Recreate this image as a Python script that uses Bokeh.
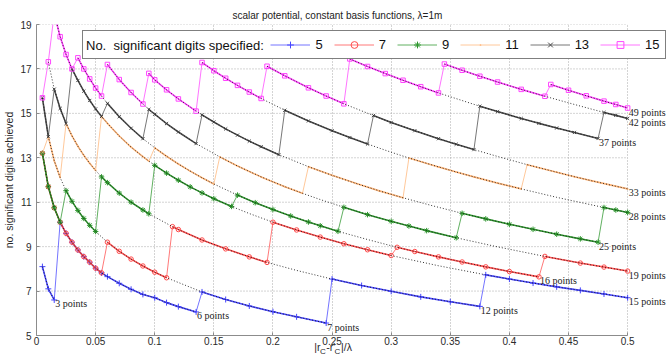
from bokeh.plotting import figure
from bokeh.models import (Range1d, FixedTicker, NumeralTickFormatter, Legend, LegendItem,
                          LabelSet, ColumnDataSource, LinearAxis)
from bokeh.embed import file_html
from bokeh.resources import INLINE

FONT = "Liberation Sans"
NB = "\u00a0"

# ------------------------------------------------------------------ data
title_text = "scalar potential, constant basis functions, \u03bb=1m"
y_label = "no. significant digits achieved"
legend_title = "No.  significant digits specified:"
x_label_main = "|r" + NB * 2 + "-r'" + NB * 2 + "|/\u03bb" + NB * 14     # |r_C - r'_C| / lambda
x_label_subs = "C" + NB * 4 + "C" + NB * 2 + NB * 19                    # the two subscripts
x_ticks = [0, 0.05, 0.1, 0.15, 0.2, 0.25, 0.3, 0.35, 0.4, 0.45, 0.5]
y_ticks = [5, 7, 9, 11, 13, 15, 17, 19]

# accuracy curve of each quadrature rule (number of points)
rule_points = [3, 6, 7, 12, 15, 16, 19, 25, 28, 33, 37, 42, 49]
r3_x = [0.005, 0.01, 0.015]
r3_y = [8.1, 7.1, 6.6]
r6_x = [0.005, 0.01, 0.015, 0.02, 0.025, 0.03, 0.035, 0.04, 0.045, 0.05, 0.055, 0.06, 0.07, 0.08,
        0.09, 0.1, 0.11, 0.12, 0.135]
r6_y = [13.2, 11.7, 10.75, 10.1, 9.6, 9.2, 8.85, 8.55, 8.3, 8.03, 7.82, 7.65, 7.35, 7.08,
        6.85, 6.7, 6.48, 6.3, 6.06]
r7_x = [0.005, 0.01, 0.015, 0.02, 0.025, 0.03, 0.035, 0.04, 0.045, 0.05, 0.06, 0.07, 0.08, 0.09,
        0.1, 0.11, 0.14, 0.16, 0.18, 0.2, 0.22, 0.245]
r7_y = [15.7, 13.95, 12.87, 12.11, 11.52, 11.04, 10.63, 10.27, 9.96, 9.68, 9.2, 8.79, 8.44, 8.13,
        7.85, 7.6, 6.96, 6.62, 6.33, 6.07, 5.84, 5.56]
r12_x = [0.01, 0.015, 0.02, 0.025, 0.03, 0.035, 0.04, 0.045, 0.05, 0.055, 0.06, 0.07, 0.08, 0.09,
         0.095, 0.115, 0.12, 0.14, 0.16, 0.18, 0.195, 0.22, 0.25, 0.275, 0.3, 0.325, 0.35, 0.375]
r12_y = [17.32, 16.09, 15.22, 14.54, 13.99, 13.52, 13.11, 12.75, 12.43, 12.14, 11.88, 11.41, 11.0, 10.65,
         10.48, 9.9, 9.77, 9.3, 8.9, 8.54, 8.29, 7.93, 7.54, 7.25, 6.99, 6.74, 6.52, 6.31]
r15_x = [0.015, 0.02, 0.025, 0.03, 0.035, 0.04, 0.045, 0.05, 0.055, 0.06, 0.07, 0.08, 0.09, 0.095,
         0.1, 0.11, 0.12, 0.13, 0.14, 0.15, 0.165, 0.18, 0.2, 0.22, 0.24, 0.26, 0.28, 0.3, 0.34,
         0.38, 0.4, 0.42, 0.44, 0.46, 0.48, 0.5]
r15_y = [19.5, 18.45, 17.65, 17.0, 16.48, 16.0, 15.58, 15.2, 14.86, 14.55, 13.98, 13.48, 13.05, 12.85,
         12.66, 12.31, 11.99, 11.69, 11.42, 11.16, 10.81, 10.49, 10.1, 9.75, 9.43, 9.13, 8.86, 8.6, 8.14,
         7.73, 7.54, 7.36, 7.19, 7.03, 6.87, 6.7]
r16_x = [0.035, 0.04, 0.045, 0.05, 0.055, 0.06, 0.07, 0.08, 0.09, 0.1, 0.11, 0.12, 0.13, 0.14, 0.15,
         0.17, 0.185, 0.2, 0.215, 0.23, 0.24, 0.255, 0.28, 0.305, 0.32, 0.34, 0.36, 0.38, 0.4, 0.425]
r16_y = [17.5, 17.0, 16.55, 16.14, 15.78, 15.45, 14.85, 14.33, 13.86, 13.45, 13.07, 12.72, 12.4, 12.1, 11.82,
         11.32, 10.98, 10.67, 10.38, 10.11, 9.94, 9.69, 9.32, 8.97, 8.78, 8.54, 8.31, 8.09, 7.88, 7.64]
r19_x = [0.06, 0.07, 0.08, 0.09, 0.095, 0.1, 0.11, 0.12, 0.135, 0.155, 0.17, 0.19, 0.21, 0.225, 0.24,
         0.26, 0.28, 0.3, 0.315, 0.33, 0.355, 0.39, 0.43, 0.46, 0.48, 0.5]
r19_y = [17.2, 16.52, 15.94, 15.42, 15.18, 14.96, 14.54, 14.16, 13.64, 13.04, 12.63, 12.14, 11.7, 11.4, 11.12,
         10.77, 10.44, 10.14, 9.93, 9.72, 9.4, 8.99, 8.56, 8.26, 8.08, 7.9]
r25_x = [0.095, 0.1, 0.11, 0.12, 0.135, 0.14, 0.15, 0.16, 0.17, 0.18, 0.19, 0.205, 0.23, 0.25, 0.27,
         0.29, 0.31, 0.335, 0.36, 0.38, 0.4, 0.42, 0.44, 0.46, 0.475]
r25_y = [16.8, 16.51, 16.06, 15.65, 15.1, 14.93, 14.61, 14.3, 14.02, 13.75, 13.5, 13.14, 12.6, 12.21, 11.85,
         11.51, 11.2, 10.84, 10.5, 10.25, 10.01, 9.78, 9.56, 9.35, 9.2]
r28_x = [0.14, 0.15, 0.16, 0.17, 0.18, 0.19, 0.21, 0.23, 0.25, 0.265, 0.28, 0.3, 0.315, 0.34, 0.355,
         0.37, 0.39, 0.41, 0.44, 0.46, 0.48, 0.49, 0.5]
r28_y = [17.29, 16.92, 16.58, 16.26, 15.96, 15.67, 15.14, 14.66, 14.22, 13.91, 13.62, 13.25, 12.99, 12.59, 12.36,
         12.14, 11.86, 11.6, 11.22, 10.99, 10.76, 10.65, 10.54]
r33_x = [0.195, 0.21, 0.23, 0.245, 0.26, 0.285, 0.3, 0.32, 0.34, 0.355, 0.37, 0.39, 0.415, 0.44, 0.455,
         0.47, 0.485, 0.5]
r33_y = [17.12, 16.69, 16.15, 15.78, 15.43, 14.9, 14.59, 14.22, 13.86, 13.61, 13.37, 13.06, 12.69, 12.35, 12.15,
         11.96, 11.78, 11.6]
r37_x = [0.265, 0.28, 0.295, 0.31, 0.325, 0.34, 0.375, 0.39, 0.41, 0.425, 0.44, 0.455, 0.475]
r37_y = [17.45, 17.11, 16.79, 16.49, 16.2, 15.92, 15.32, 15.08, 14.77, 14.55, 14.34, 14.14, 13.87]
r42_x = [0.345, 0.36, 0.375, 0.39, 0.41, 0.43, 0.455, 0.48, 0.49, 0.5]
r42_y = [17.22, 16.94, 16.67, 16.41, 16.08, 15.77, 15.4, 15.04, 14.91, 14.77]
r49_x = [0.435, 0.45, 0.465, 0.48, 0.49, 0.5]
r49_y = [16.3, 16.04, 15.79, 15.55, 15.4, 15.24]

# which rule each series uses over which range of |rC - r'C|/lambda
digits_specified = [5, 7, 9, 11, 13, 15]
s5_rules = [3, 6, 7, 12, 15]
s5_from = [0.005, 0.02, 0.14, 0.25, 0.38]
s5_to = [0.015, 0.135, 0.245, 0.375, 0.5]
s7_rules = [6, 7, 12, 15, 16, 19]
s7_from = [0.005, 0.06, 0.115, 0.2, 0.305, 0.43]
s7_to = [0.055, 0.11, 0.195, 0.3, 0.425, 0.5]
s9_rules = [6, 7, 12, 15, 16, 19, 25, 28]
s9_from = [0.005, 0.025, 0.055, 0.1, 0.17, 0.26, 0.36, 0.48]
s9_to = [0.02, 0.05, 0.095, 0.165, 0.255, 0.355, 0.475, 0.5]
s11_rules = [6, 7, 12, 15, 16, 19, 25, 28, 33]
s11_from = [0.005, 0.01, 0.025, 0.055, 0.1, 0.155, 0.23, 0.315, 0.415]
s11_to = [0.005, 0.02, 0.05, 0.095, 0.15, 0.225, 0.31, 0.41, 0.5]
s13_rules = [7, 12, 15, 16, 19, 25, 28, 33, 37, 42]
s13_from = [0.005, 0.015, 0.03, 0.06, 0.095, 0.14, 0.21, 0.285, 0.375, 0.48]
s13_to = [0.01, 0.025, 0.055, 0.09, 0.135, 0.205, 0.28, 0.37, 0.475, 0.5]
s15_rules = [7, 12, 15, 16, 19, 25, 28, 33, 37, 42, 49]
s15_from = [0.005, 0.01, 0.015, 0.035, 0.06, 0.095, 0.14, 0.195, 0.265, 0.345, 0.435]
s15_to = [0.005, 0.01, 0.03, 0.055, 0.09, 0.135, 0.19, 0.26, 0.34, 0.43, 0.5]

# ------------------------------------------------------------------ tables
rule_x = dict(zip(rule_points, [r3_x, r6_x, r7_x, r12_x, r15_x, r16_x, r19_x, r25_x, r28_x,
                                r33_x, r37_x, r42_x, r49_x]))
rule_y = dict(zip(rule_points, [r3_y, r6_y, r7_y, r12_y, r15_y, r16_y, r19_y, r25_y, r28_y,
                                r33_y, r37_y, r42_y, r49_y]))
series_specs = dict(zip(digits_specified, [(s5_rules, s5_from, s5_to), (s7_rules, s7_from, s7_to),
                                           (s9_rules, s9_from, s9_to), (s11_rules, s11_from, s11_to),
                                           (s13_rules, s13_from, s13_to), (s15_rules, s15_from, s15_to)]))


def build(spec):
    xs, ys, seg_x, seg_y = [], [], [], []
    for r, a, b in zip(*spec):
        sx, sy = [], []
        for xv, yv in zip(rule_x[r], rule_y[r]):
            if a - 1e-9 <= xv <= b + 1e-9:
                sx.append(xv)
                sy.append(yv)
        xs += sx
        ys += sy
        seg_x.append(sx)
        seg_y.append(sy)
    return xs, ys, seg_x, seg_y


# ------------------------------------------------------------------ styles
style = {
    5: dict(color="#4646ff", marker="cross", size=6),
    7: dict(color="#ff4c4c", marker="circle", size=4.5),
    9: dict(color="#2c962c", marker="asterisk", size=5.5),
    11: dict(color="#ffb578", marker="dot", size=7),
    13: dict(color="#4a4a4a", marker="x", size=4.5),
    15: dict(color="#ff45ff", marker="square", size=4.5),
}
GRID = "#a8a8a8"
X_END = 0.5 * 636 / 593          # frame runs to the right edge so end labels are not clipped

p = figure(width=670, height=358, x_range=Range1d(0, X_END), y_range=Range1d(5, 19),
           output_backend="svg", toolbar_location=None,
           min_border_left=34, min_border_right=0, min_border_top=24, min_border_bottom=20)
p.background_fill_color = "white"
p.border_fill_color = "white"
p.outline_line_color = None

p.title.text = title_text
p.title.align = "left"
p.title.offset = 196
p.title.text_font = FONT
p.title.text_font_size = "10px"
p.title.text_font_style = "normal"
p.title.text_color = "#222222"
p.title.standoff = 7

for ax in (p.xaxis[0], p.yaxis[0]):
    ax.major_label_text_font = FONT
    ax.major_label_text_font_size = "10px"
    ax.major_label_text_color = "#2a2a2a"
    ax.axis_line_color = "#8c8c8c"
    ax.major_tick_line_color = "#8c8c8c"
    ax.major_tick_in = 3
    ax.major_tick_out = 0
    ax.minor_tick_line_color = None
    ax.axis_label_text_font = FONT
    ax.axis_label_text_font_size = "10.5px"
    ax.axis_label_text_font_style = "normal"
    ax.axis_label_text_color = "#2a2a2a"

p.xaxis.ticker = FixedTicker(ticks=x_ticks)
p.xaxis.formatter = NumeralTickFormatter(format="0.[00]")
p.xaxis.bounds = (0, 0.5)
p.xaxis.major_label_standoff = 1
p.xaxis.axis_label = x_label_main
p.xaxis.axis_label_standoff = -7
p.yaxis.ticker = FixedTicker(ticks=y_ticks)
p.yaxis.major_label_standoff = 5
p.yaxis.axis_label = y_label
p.yaxis.axis_label_standoff = 2

sub_axis = LinearAxis(ticker=FixedTicker(ticks=[]), bounds=(0, 0.5), axis_line_color=None,
                      major_tick_in=0, major_tick_out=0, minor_tick_line_color=None,
                      axis_label=x_label_subs, axis_label_text_font=FONT,
                      axis_label_text_font_size="8px", axis_label_text_font_style="normal",
                      axis_label_text_color="#2a2a2a", axis_label_standoff=-9)
p.add_layout(sub_axis, "below")

p.xgrid.grid_line_color = GRID
p.xgrid.grid_line_dash = "1 2"
p.ygrid.visible = False
p.segment(x0=[0] * len(y_ticks), x1=[0.5] * len(y_ticks), y0=y_ticks, y1=y_ticks,
          line_color=GRID, line_dash="1 2", line_width=1, level="underlay")

legend_items = []
for d in digits_specified:
    st = style[d]
    xs, ys, seg_x, seg_y = build(series_specs[d])
    ln = p.line(xs, ys, line_color=st["color"], line_width=1, line_alpha=0.75)
    p.multi_line(seg_x, seg_y, line_color=st["color"], line_width=1.6, line_alpha=0.9)
    fill = st["color"] if st["marker"] == "dot" else None
    sc = p.scatter(xs, ys, marker=st["marker"], size=st["size"], line_color=st["color"],
                   fill_color=fill, line_width=1)
    legend_items.append(LegendItem(label=str(d), renderers=[ln, sc]))

# dotted accuracy curves of every rule, with the rule's size at its end
lab_x, lab_y, lab_t = [], [], []
for r in rule_points:
    p.line(rule_x[r], rule_y[r], line_color="#111111", line_width=1, line_dash="1 2", line_alpha=0.85)
    lab_x.append(rule_x[r][-1])
    lab_y.append(rule_y[r][-1])
    lab_t.append(f"{r} points")

labels = LabelSet(x="x", y="y", text="t", source=ColumnDataSource(dict(x=lab_x, y=lab_y, t=lab_t)),
                  x_offset=1, y_offset=-4, text_font=FONT, text_font_size="10px",
                  text_color="#222222", text_baseline="middle", text_align="left")
p.add_layout(labels)

# legend box: an empty spacer entry leaves room for the title, laid over by a second legend
spacer = p.line([0.25], [12], line_alpha=0)
legend = Legend(items=[LegendItem(label=NB * 35, renderers=[spacer])] + legend_items,
                location=(46, 276), orientation="horizontal",
                glyph_width=40, glyph_height=17, label_height=17, label_width=1, label_standoff=5,
                spacing=11, padding=5, margin=0, label_text_font=FONT, label_text_font_size="13px",
                label_text_color="#111111", border_line_color="black", border_line_width=1,
                background_fill_color="white", background_fill_alpha=1.0)
p.add_layout(legend)
title_legend = Legend(items=[LegendItem(label=legend_title, renderers=[spacer])],
                      location=(50, 281), orientation="horizontal",
                      glyph_width=0, glyph_height=17, label_height=17, label_width=1, label_standoff=0,
                      spacing=0, padding=0, margin=0, label_text_font=FONT, label_text_font_size="13px",
                      label_text_color="#111111", border_line_color=None,
                      background_fill_alpha=0.0)
p.add_layout(title_legend)

open("out.html", "w").write(file_html(p, INLINE))
